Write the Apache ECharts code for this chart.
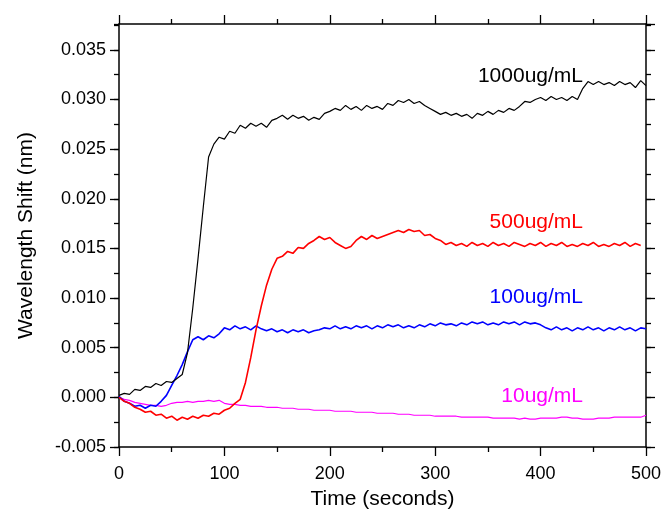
<!DOCTYPE html>
<html>
<head>
<meta charset="utf-8">
<script src="https://cdn.jsdelivr.net/npm/echarts@6/dist/echarts.min.js"></script>
<style>html,body{margin:0;padding:0;background:#fff}#c{width:664px;height:515px}</style>
</head>
<body>
<div id="c"></div>
<script>
// time (seconds)
const times = [0,5,10,15,20,25,30,35,40,45,50,55,60,65,70,75,80,85,90,95,
100,105,110,115,120,125,130,135,140,145,150,155,160,165,170,175,180,185,190,195,
200,205,210,215,220,225,230,235,240,245,250,255,260,265,270,275,280,285,290,295,
300,305,310,315,320,325,330,335,340,345,350,355,360,365,370,375,380,385,390,395,
400,405,410,415,420,425,430,435,440,445,450,455,460,465,470,475,480,485,490,495,500];

// 1000 ug/mL (black)
const s1000 = [0.0002,0.0004,0.0003,0.0008,0.0007,0.0011,0.0010,0.0014,0.0012,0.0016,
0.0015,0.0019,0.0023,0.0045,0.0090,0.0140,0.0192,0.0242,0.0255,0.0262,
0.0260,0.0268,0.0266,0.0274,0.0271,0.0276,0.0273,0.0276,0.0272,0.0279,
0.0281,0.0284,0.0280,0.0284,0.0281,0.0283,0.0279,0.0282,0.0280,0.0286,
0.0288,0.0291,0.0289,0.0294,0.0290,0.0293,0.0289,0.0294,0.0291,0.0293,
0.0290,0.0296,0.0294,0.0299,0.0297,0.0300,0.0296,0.0298,0.0294,0.0291,
0.0288,0.0285,0.0287,0.0284,0.0286,0.0283,0.0285,0.0281,0.0286,0.0284,
0.0288,0.0285,0.0289,0.0287,0.0291,0.0289,0.0293,0.0298,0.0297,0.0300,
0.0302,0.0299,0.0303,0.0300,0.0302,0.0299,0.0303,0.0300,0.0311,0.0318,
0.0315,0.0318,0.0315,0.0317,0.0314,0.0318,0.0315,0.0317,0.0312,0.0319,0.0314];

// 500 ug/mL (red)
const s500 = [0.0000,-0.0004,-0.0006,-0.0010,-0.0012,-0.0015,-0.0014,-0.0018,-0.0017,-0.0021,
-0.0019,-0.0023,-0.0020,-0.0022,-0.0019,-0.0021,-0.0018,-0.0019,-0.0016,-0.0017,
-0.0013,-0.0011,-0.0006,-0.0002,0.0015,0.0040,0.0068,0.0092,0.0113,0.0129,
0.0140,0.0142,0.0147,0.0145,0.0151,0.0150,0.0155,0.0158,0.0162,0.0159,
0.0161,0.0156,0.0153,0.0150,0.0152,0.0158,0.0162,0.0159,0.0163,0.0160,
0.0162,0.0164,0.0166,0.0168,0.0166,0.0169,0.0167,0.0168,0.0163,0.0164,
0.0160,0.0158,0.0154,0.0156,0.0153,0.0155,0.0152,0.0156,0.0153,0.0155,
0.0152,0.0156,0.0153,0.0155,0.0152,0.0156,0.0154,0.0152,0.0155,0.0153,
0.0156,0.0152,0.0155,0.0153,0.0156,0.0152,0.0154,0.0152,0.0155,0.0153,
0.0156,0.0152,0.0154,0.0152,0.0155,0.0153,0.0156,0.0152,0.0155,0.0153,null];

// 100 ug/mL (blue)
const s100 = [0.0001,-0.0004,-0.0006,-0.0009,-0.0008,-0.0011,-0.0008,-0.0009,-0.0004,0.0002,
0.0012,0.0022,0.0033,0.0046,0.0058,0.0061,0.0058,0.0062,0.0060,0.0064,
0.0070,0.0068,0.0072,0.0069,0.0071,0.0068,0.0072,0.0069,0.0067,0.0069,
0.0066,0.0068,0.0065,0.0068,0.0066,0.0068,0.0065,0.0067,0.0068,0.0070,
0.0069,0.0072,0.0069,0.0071,0.0069,0.0072,0.0070,0.0072,0.0069,0.0072,
0.0070,0.0073,0.0071,0.0073,0.0070,0.0072,0.0070,0.0073,0.0071,0.0074,
0.0072,0.0075,0.0073,0.0074,0.0072,0.0075,0.0073,0.0076,0.0074,0.0076,
0.0073,0.0075,0.0073,0.0076,0.0074,0.0076,0.0073,0.0076,0.0074,0.0075,
0.0073,0.0070,0.0068,0.0071,0.0068,0.0070,0.0067,0.0070,0.0068,0.0071,
0.0068,0.0070,0.0067,0.0070,0.0068,0.0071,0.0068,0.0070,0.0067,0.0070,0.0069];

// 10 ug/mL (magenta)
const s10 = [0.0000,-0.0002,-0.0003,-0.0005,-0.0006,-0.0007,-0.0008,-0.0008,-0.0009,-0.0008,
-0.0006,-0.0005,-0.0005,-0.0004,-0.0005,-0.0004,-0.0004,-0.0003,-0.0004,-0.0003,
-0.0006,-0.0007,-0.0007,-0.0008,-0.0008,-0.0009,-0.0009,-0.0009,-0.0010,-0.0010,
-0.0010,-0.0011,-0.0011,-0.0011,-0.0012,-0.0012,-0.0012,-0.0013,-0.0013,-0.0013,
-0.0013,-0.0014,-0.0014,-0.0014,-0.0014,-0.0015,-0.0015,-0.0015,-0.0015,-0.0016,
-0.0016,-0.0016,-0.0016,-0.0017,-0.0017,-0.0017,-0.0018,-0.0018,-0.0018,-0.0018,
-0.0019,-0.0019,-0.0019,-0.0019,-0.0019,-0.0020,-0.0020,-0.0020,-0.0020,-0.0020,
-0.0020,-0.0021,-0.0021,-0.0021,-0.0021,-0.0021,-0.0022,-0.0021,-0.0022,-0.0022,
-0.0021,-0.0021,-0.0021,-0.0021,-0.0020,-0.0020,-0.0021,-0.0021,-0.0022,-0.0022,
-0.0022,-0.0021,-0.0021,-0.0021,-0.0020,-0.0020,-0.0020,-0.0020,-0.0020,-0.0020,-0.0018];

const seriesNames = ['1000ug/mL','500ug/mL','100ug/mL','10ug/mL'];
const seriesColors = ['#000000','#ff0000','#0000ff','#ff00ff'];
const seriesWidths = [1.2, 1.6, 1.6, 1.2];
const seriesData = [s1000, s500, s100, s10];

const yMin = -0.005, yMax = 0.0376, yStep = 0.005;

const FONT = 'Liberation Sans, Arial, sans-serif';
const chart = echarts.init(document.getElementById('c'), null, {renderer:'canvas'});

const lineStyle = {color:'#000', width:1.5};
function xAxis(pos, labels){
  return {
    type:'value', position:pos, min:0, max:500, interval:100,
    axisLine:{show:true, onZero:false, lineStyle},
    axisTick:{show:true, inside:false, length:9, lineStyle:{color:'#000', width:1.3}},
    minorTick:{show:true, splitNumber:2, length:5, lineStyle:{color:'#000', width:1.3}},
    splitLine:{show:false},
    axisLabel:{show:labels, margin:18, fontSize:18, color:'#000', fontFamily:FONT},
    name: labels ? 'Time (seconds)' : '',
    nameLocation:'middle', nameGap:42,
    nameTextStyle:{fontSize:21, color:'#000', fontFamily:FONT}
  };
}
function yAxis(pos, labels, step, tickLen, showLine){
  return {
    type:'value', position:pos, min:yMin, max:yMax, interval:step,
    axisLine:{show:showLine, onZero:false, lineStyle},
    axisTick:{show:true, inside:false, length:tickLen, lineStyle:{color:'#000', width:1.3}},
    splitLine:{show:false},
    axisLabel:{show:labels, margin:13, fontSize:18, color:'#000', fontFamily:FONT,
      showMaxLabel:false,
      formatter:v => v.toFixed(3)},
    name: labels ? 'Wavelength Shift (nm)' : '',
    nameLocation:'middle', nameGap:82,
    nameTextStyle:{fontSize:21, color:'#000', fontFamily:FONT}
  };
}

const labelPos = [[583,77],[583,223],[583,298],[583,397]];

chart.setOption({
  animation:false,
  backgroundColor:'#fff',
  grid:{left:119, right:14, top:24, bottom:66},
  xAxis:[xAxis('bottom', true), xAxis('top', false)],
  yAxis:[
    yAxis('left', true, yStep, 9, true),
    yAxis('left', false, yStep/2, 5, false),
    yAxis('right', false, yStep, 9, true),
    yAxis('right', false, yStep/2, 5, false)
  ],
  series: seriesData.map((d,i) => ({
    name:seriesNames[i], type:'line', xAxisIndex:0, yAxisIndex:0,
    data: times.map((t,k) => [t, d[k]]),
    showSymbol:false, symbol:'none',
    lineStyle:{color:seriesColors[i], width:seriesWidths[i]},
    z: 10 - i
  })),
  graphic: seriesNames.map((n,i) => ({
    type:'text', right: 664 - labelPos[i][0], top: labelPos[i][1] - 11,
    style:{text:n, fill:seriesColors[i], font:'21px ' + FONT}
  }))
});
</script>
</body>
</html>
